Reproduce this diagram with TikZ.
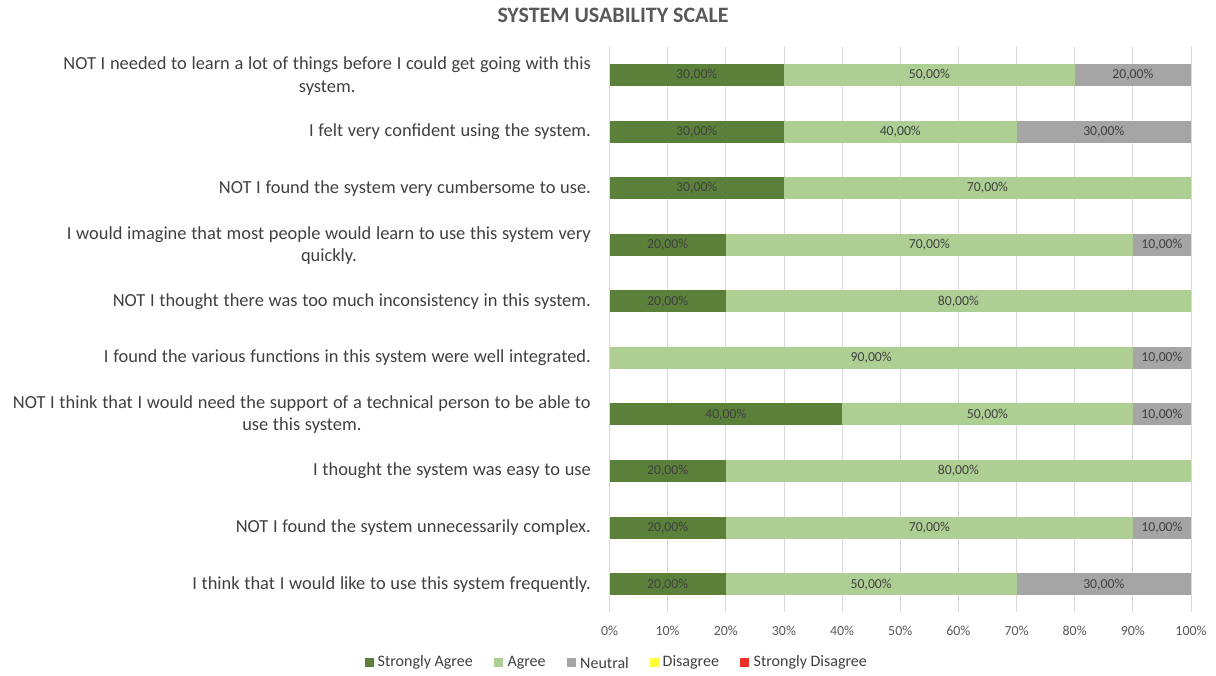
\documentclass[tikz,border=0pt]{standalone}
\usepackage{fontspec}
\setmainfont{Carlito}
\definecolor{sagree}{HTML}{5A803A}
\definecolor{agree}{HTML}{AECF94}
\definecolor{neutral}{HTML}{A5A5A5}
\definecolor{disagree}{HTML}{FFFF3C}
\definecolor{sdisagree}{HTML}{EE3124}
\definecolor{gridc}{HTML}{D9D9D9}
\definecolor{txtc}{HTML}{404040}
\definecolor{titc}{HTML}{595959}
\newcommand\chartseg[6]{%
  \node[segbox, fill=#5, minimum width={#3*5.815pt}] (#1) at ({609.5+(#2+#3/2)*5.815},#4) {#6};}
\newcommand\catfont{\fontsize{18.4}{22.4}\selectfont\spaceskip 4.7pt\relax}
\begin{document}
\begin{tikzpicture}[x=1pt,y=-1pt,
  gridline/.style={draw=gridc, line width=0.9pt},
  segbox/.style={rectangle, draw=none, minimum height=22pt, inner sep=0pt, outer sep=0pt,
    font=\fontsize{13.7}{16}\selectfont, text=txtc},
  catlbl/.style={anchor=east, align=center, inner sep=0pt, text=txtc, font=\catfont},
  ticklbl/.style={inner sep=0pt, text=titc, font=\fontsize{13.9}{16}\selectfont},
  legsq/.style={rectangle, minimum size=9pt, inner sep=0pt, draw=none},
  legtxt/.style={anchor=west, inner sep=0pt, text=txtc, font=\fontsize{16}{19}\selectfont},
  titlelbl/.style={anchor=base, inner sep=0pt, text=titc, font=\fontsize{22}{26}\selectfont\bfseries}]
\useasboundingbox[fill=white] (0,0) rectangle (1216,675);
% title
\node[titlelbl] (title) at (613,22.7) {SYSTEM USABILITY SCALE};
% grid and ticks
\foreach \k in {0,...,10}{
  \draw[gridline] ({609.5+\k*58.15},47) -- ({609.5+\k*58.15},612);
  \pgfmathtruncatemacro\pc{\k*10}
  \node[ticklbl] (tick\k) at ({609.5+\k*58.15},631) {\pc\%};
}
% rows
\def\ya{75}\def\yb{131.58}\def\yc{188.16}\def\yd{244.74}\def\ye{301.32}
\def\yf{357.9}\def\yg{414.48}\def\yh{471.06}\def\yi{527.64}\def\yj{584.22}
% row 1
\node[catlbl] (c1) at (591,76) {NOT I needed to learn a lot of things before I could get going with this\\system.};
\chartseg{r1a}{0}{30}{\ya}{sagree}{30,00\%}
\chartseg{r1b}{30}{50}{\ya}{agree}{50,00\%}
\chartseg{r1c}{80}{20}{\ya}{neutral}{20,00\%}
% row 2
\node[catlbl] (c2) at (591,\yb) {I felt very confident using the system.};
\chartseg{r2a}{0}{30}{\yb}{sagree}{30,00\%}
\chartseg{r2b}{30}{40}{\yb}{agree}{40,00\%}
\chartseg{r2c}{70}{30}{\yb}{neutral}{30,00\%}
% row 3
\node[catlbl] (c3) at (591,\yc) {NOT I found the system very cumbersome to use.};
\chartseg{r3a}{0}{30}{\yc}{sagree}{30,00\%}
\chartseg{r3b}{30}{70}{\yc}{agree}{70,00\%}
% row 4
\node[catlbl] (c4) at (591,245.74) {I would imagine that most people would learn to use this system very\\quickly.};
\chartseg{r4a}{0}{20}{\yd}{sagree}{20,00\%}
\chartseg{r4b}{20}{70}{\yd}{agree}{70,00\%}
\chartseg{r4c}{90}{10}{\yd}{neutral}{10,00\%}
% row 5
\node[catlbl] (c5) at (591,\ye) {NOT I thought there was too much inconsistency in this system.};
\chartseg{r5a}{0}{20}{\ye}{sagree}{20,00\%}
\chartseg{r5b}{20}{80}{\ye}{agree}{80,00\%}
% row 6
\node[catlbl] (c6) at (591,\yf) {I found the various functions in this system were well integrated.};
\chartseg{r6b}{0}{90}{\yf}{agree}{90,00\%}
\chartseg{r6c}{90}{10}{\yf}{neutral}{10,00\%}
% row 7
\node[catlbl] (c7) at (591,\yg) {NOT I think that I would need the support of a technical person to be able to\\use this system.};
\chartseg{r7a}{0}{40}{\yg}{sagree}{40,00\%}
\chartseg{r7b}{40}{50}{\yg}{agree}{50,00\%}
\chartseg{r7c}{90}{10}{\yg}{neutral}{10,00\%}
% row 8
\node[catlbl] (c8) at (591,\yh) {I thought the system was easy to use};
\chartseg{r8a}{0}{20}{\yh}{sagree}{20,00\%}
\chartseg{r8b}{20}{80}{\yh}{agree}{80,00\%}
% row 9
\node[catlbl] (c9) at (591,\yi) {NOT I found the system unnecessarily complex.};
\chartseg{r9a}{0}{20}{\yi}{sagree}{20,00\%}
\chartseg{r9b}{20}{70}{\yi}{agree}{70,00\%}
\chartseg{r9c}{90}{10}{\yi}{neutral}{10,00\%}
% row 10
\node[catlbl] (c10) at (591,\yj) {I think that I would like to use this system frequently.};
\chartseg{r10a}{0}{20}{\yj}{sagree}{20,00\%}
\chartseg{r10b}{20}{50}{\yj}{agree}{50,00\%}
\chartseg{r10c}{70}{30}{\yj}{neutral}{30,00\%}
% legend
\node[legsq, fill=sagree] (l1) at (369.5,662.8) {};
\node[legtxt] (l1t) at (377.5,662.8) {Strongly Agree};
\node[legsq, fill=agree] (l2) at (498.5,662.8) {};
\node[legtxt] (l2t) at (507.3,662.8) {Agree};
\node[legsq, fill=neutral] (l3) at (571.5,662.8) {};
\node[legtxt] (l3t) at (580,662.8) {Neutral};
\node[legsq, fill=disagree] (l4) at (654.5,662.8) {};
\node[legtxt] (l4t) at (662.5,662.8) {Disagree};
\node[legsq, fill=sdisagree] (l5) at (744.5,662.8) {};
\node[legtxt] (l5t) at (753.5,662.8) {Strongly Disagree};
\end{tikzpicture}
\end{document}
